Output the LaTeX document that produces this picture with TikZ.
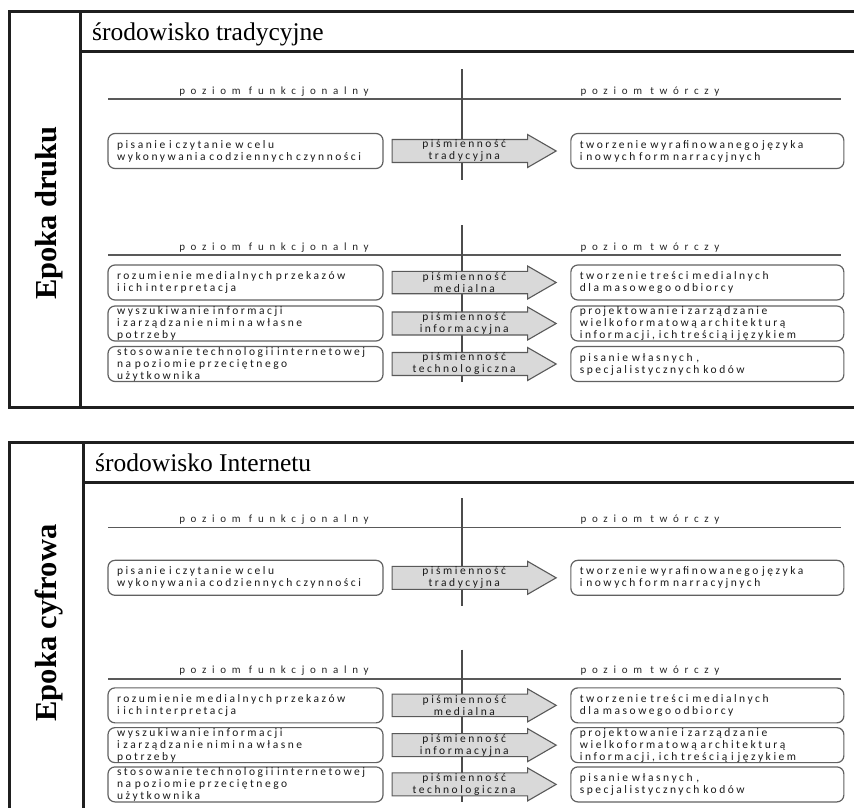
\documentclass[tikz,border=0pt]{standalone}
\usepackage{fontspec}
\setmainfont{Liberation Serif}
\newfontfamily\boxfont[LetterSpace=22]{Carlito}
\newfontfamily\headfont[LetterSpace=52]{Carlito}
\usetikzlibrary{shapes.arrows,positioning}

\begin{document}
\begin{tikzpicture}[
    x=1pt, y=-1pt,
    frame/.style={line width=3pt, draw=black!88},
    rule/.style={line width=1.4pt, draw=black!65},
    axis/.style={line width=2.6pt, draw=black!70},
    era/.style={font=\bfseries\fontsize{30.5}{36}\selectfont, inner sep=0pt},
    env/.style={font=\fontsize{25.5}{30}\selectfont, inner sep=0pt},
    level/.style={font=\headfont\fontsize{11}{12}\selectfont, text=black!85, inner sep=0pt},
    lbox/.style={draw=black!62, line width=1.2pt, rounded corners=7pt, text width=257pt, minimum height=35pt,
                 inner xsep=9pt, inner ysep=0pt, align=left, text=black!90, font=\boxfont\fontsize{11.5}{12}\selectfont},
    rbox/.style={lbox, text width=255pt},
    pis/.style={single arrow, draw=black!65, fill=black!15, line width=1.1pt, single arrow head extend=5pt,
                single arrow tip angle=60, minimum height=164pt, minimum width=33pt, inner sep=0pt,
                align=center, text=black!90, font=\boxfont\fontsize{11.5}{12}\selectfont}
]
\useasboundingbox (0,0) rectangle (854,807);
\clip (0,0) rectangle (854,807);

\foreach \T/\C/\s/\ey/\era/\env in {11/80/1/213/{Epoka druku}/{środowisko tradycyjne},
                                    442/83/0.97/623/{Epoka cyfrowa}/{środowisko Internetu}} {
  % ramka epoki
  \draw[frame] (9,\T) rectangle (900,\T+396);
  \draw[frame] (\C,\T) -- (\C,\T+396);
  \draw[frame] (\C,\T+40) -- (900,\T+40);
  \node[era, rotate=90] (era-\T) at (49,\ey) {\era};
  \node[env, anchor=base west] (env-\T) at (\C+12,\T+29.5) {\env};
  % poziomy
  \foreach \h in {83,239} {
    \node[level, anchor=base] (fun-\T-\h) at (274,\T+\s*\h) {poziom funkcjonalny};
    \node[level, anchor=base] (twr-\T-\h) at (650,\T+\s*\h) {poziom twórczy};
    \draw[rule] (108,\T+\s*\h+5) -- (841,\T+\s*\h+5);
  }
  \draw[axis] (462,\T+\s*58) -- (462,\T+\s*169);
  \draw[axis] (462,\T+\s*214) -- (462,\T+\s*371);
  % pismiennosc tradycyjna
  \node[lbox] (lt-\T) at (245.5,\T+\s*140) {pisanie i czytanie w celu\\wykonywania codziennych czynności};
  \node[pis, right=8pt of lt-\T] (at-\T) {piśmienność\\tradycyjna};
  \node[rbox, right=13pt of at-\T] (rt-\T) {tworzenie wyrafinowanego języka\\i nowych form narracyjnych};
  % nowe pismiennosci
  \foreach \r/\y/\lt/\at/\rt in {
      1/271.5/{rozumienie medialnych przekazów\\i ich interpretacja}/medialna/{tworzenie treści medialnych\\dla masowego odbiorcy},
      2/312.5/{wyszukiwanie informacji\\i zarządzanie nimi na własne\\potrzeby}/informacyjna/{projektowanie i zarządzanie\\wielkoformatową architekturą\\informacji, ich treścią i językiem},
      3/353/{stosowanie technologii internetowej\\na poziomie przeciętnego\\użytkownika}/technologiczna/{pisanie własnych ,\\specjalistycznych kodów}} {
    \node[lbox] (l\r-\T) at (245.5,\T+\s*\y) {\lt};
    \node[pis, right=8pt of l\r-\T] (a\r-\T) {piśmienność\\\at};
    \node[rbox, right=13pt of a\r-\T] (r\r-\T) {\rt};
  }
}
\end{tikzpicture}
\end{document}
